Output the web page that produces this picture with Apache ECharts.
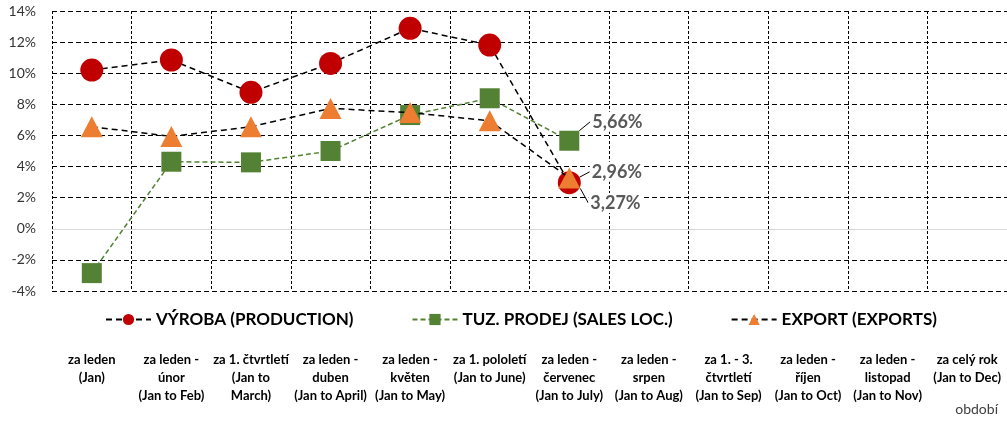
<!DOCTYPE html>
<html>
<head>
<meta charset="utf-8">
<script src="https://cdn.jsdelivr.net/npm/echarts@6/dist/echarts.min.js"></script>
<style>html,body{margin:0;padding:0;background:#fff}#c{width:1007px;height:422px}</style>
</head>
<body>
<div id="c"></div>
<script>
const categories = [
  "za leden\n(Jan)",
  "za leden -\núnor\n(Jan to Feb)",
  "za 1. čtvrtletí\n(Jan to\nMarch)",
  "za leden -\nduben\n(Jan to April)",
  "za leden -\nkvěten\n(Jan to May)",
  "za 1. pololetí\n(Jan to June)",
  "za leden -\nčervenec\n(Jan to July)",
  "za leden -\nsrpen\n(Jan to Aug)",
  "za 1. - 3.\nčtvrtletí\n(Jan to Sep)",
  "za leden -\nříjen\n(Jan to Oct)",
  "za leden -\nlistopad\n(Jan to Nov)",
  "za celý rok\n(Jan to Dec)"
];
const seriesNames = ["VÝROBA (PRODUCTION)", "TUZ. PRODEJ (SALES LOC.)", "EXPORT (EXPORTS)"];
const production = [10.2, 10.85, 8.77, 10.63, 12.89, 11.81, 2.96];
const salesLocal = [-2.85, 4.31, 4.27, 5.0, 7.31, 8.39, 5.66];
const exportsVals = [6.56, 5.94, 6.56, 7.74, 7.47, 6.94, 3.27];
const yTicks = { min: -4, max: 14, interval: 2 };
const axisTitle = "období";

const fmt = v => v.toFixed(2).replace('.', ',') + '%';
function withLastLabel(arr) {
  return arr.map((v, i) => i === arr.length - 1 ? { value: v, label: { show: true } } : v);
}
function lastLayout(n, dx, dy) {
  return p => (p.dataIndex === n - 1 ? { dx: dx, dy: dy } : {});
}
const labelStyle = {
  show: false, position: 'right', distance: 5,
  formatter: p => fmt(p.value),
  fontFamily: 'Lato', fontWeight: 'bold', fontSize: 18, color: '#595959',
  backgroundColor: '#fff', padding: [1, 2]
};
const labelLine = { show: true, lineStyle: { color: '#000', width: 1 } };

const chart = echarts.init(document.getElementById('c'));
chart.setOption({
  animation: false,
  textStyle: { fontFamily: 'Lato' },
  title: {
    text: axisTitle, right: 4, bottom: 1,
    textStyle: { fontFamily: 'Lato', fontSize: 14, fontWeight: 'normal', color: '#404040' }
  },
  legend: {
    top: 306, left: 100, itemGap: 58, itemWidth: 45, itemHeight: 14,
    textStyle: { fontFamily: 'Lato', fontWeight: 'bold', fontSize: 17, color: '#000' },
    data: seriesNames
  },
  grid: { left: 52, top: 11, width: 960, height: 280, containLabel: false },
  xAxis: {
    type: 'category', data: categories, boundaryGap: true,
    axisLine: { show: false }, axisTick: { show: false },
    axisLabel: {
      interval: 0, margin: 60, fontFamily: 'Lato', fontWeight: 'bold', fontSize: 13,
      lineHeight: 18, color: '#000', verticalAlign: 'top'
    },
    splitLine: { show: true, lineStyle: { color: '#000', type: [3, 2], width: 1 } }
  },
  yAxis: {
    type: 'value', min: yTicks.min, max: yTicks.max, interval: yTicks.interval,
    axisLine: { show: false }, axisTick: { show: false },
    axisLabel: {
      formatter: v => v + '%', margin: 16, fontFamily: 'Lato', fontSize: 14, color: '#333'
    },
    splitLine: { show: true, lineStyle: { color: '#000', type: [5, 3], width: 1 } }
  },
  series: [
    {
      name: seriesNames[0], type: 'line', data: withLastLabel(production),
      symbol: 'circle', symbolSize: 23,
      itemStyle: { color: '#C00000' },
      lineStyle: { color: '#000', type: [6, 4], width: 1.5 },
      label: labelStyle, labelLine: labelLine,
      labelLayout: lastLayout(production.length, 4, -11),
      markLine: {
        silent: true, symbol: 'none', label: { show: false },
        lineStyle: { color: '#d9d9d9', type: 'solid', width: 1 },
        data: [{ yAxis: 0 }]
      },
      z: 2
    },
    {
      name: seriesNames[1], type: 'line', data: withLastLabel(salesLocal),
      symbol: 'rect', symbolSize: 20,
      itemStyle: { color: '#548235' },
      lineStyle: { color: '#548235', type: [5, 3], width: 1.5 },
      label: labelStyle, labelLine: labelLine,
      labelLayout: lastLayout(salesLocal.length, 6, -19),
      z: 3
    },
    {
      name: seriesNames[2], type: 'line', data: withLastLabel(exportsVals),
      symbol: 'triangle', symbolSize: [22, 21],
      itemStyle: { color: '#ED7D31' },
      lineStyle: { color: '#000', type: [6, 4], width: 1.5 },
      label: labelStyle, labelLine: labelLine,
      labelLayout: lastLayout(exportsVals.length, 3, 25),
      z: 4
    }
  ]
});
</script>
</body>
</html>
